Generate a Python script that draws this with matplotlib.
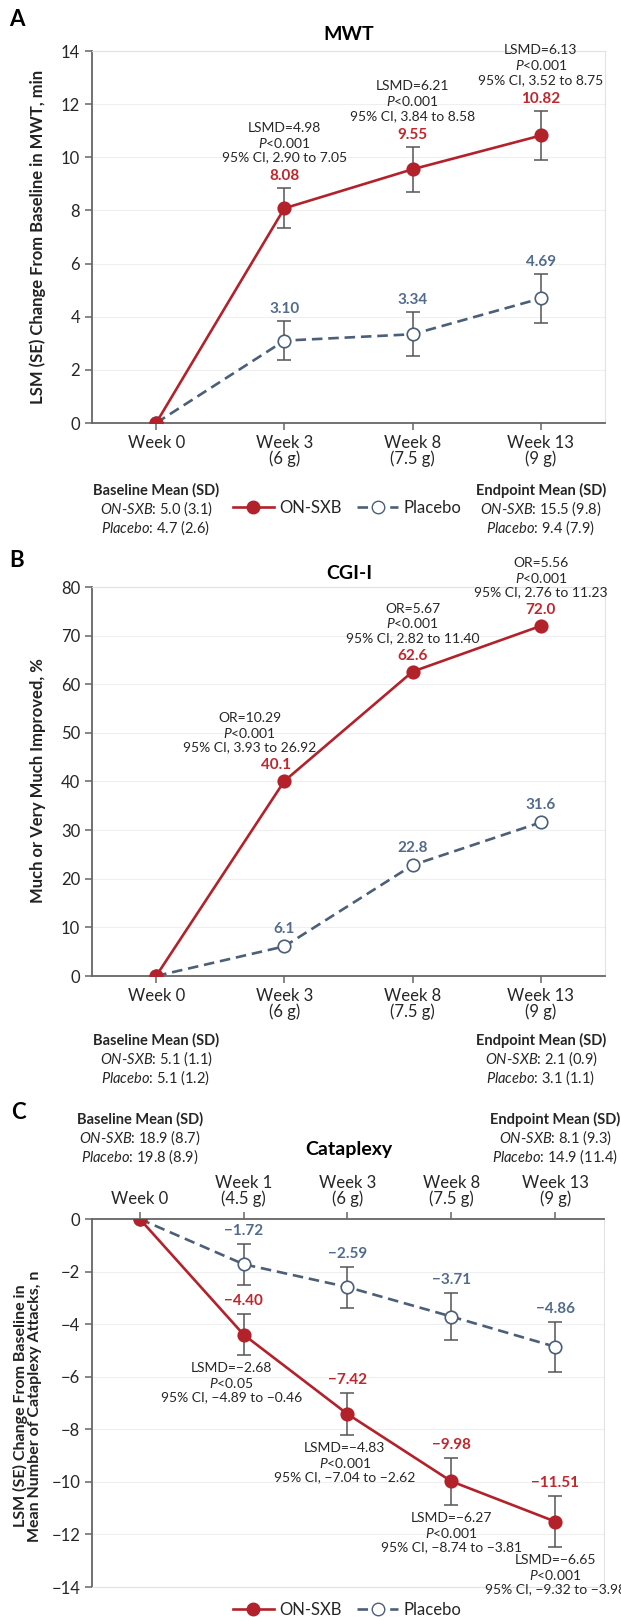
import numpy as np
import matplotlib.pyplot as plt
from matplotlib.lines import Line2D

plt.rcParams['font.family'] = ['Lato', 'DejaVu Sans']
plt.rcParams['mathtext.fontset'] = 'custom'
plt.rcParams['mathtext.rm'] = 'Lato'
plt.rcParams['mathtext.it'] = 'Lato:italic'
plt.rcParams['mathtext.bf'] = 'Lato:bold'

W, H = 621, 1617

# ---------------- data ----------------
mwt_weeks = ['Week 0', 'Week 3\n(6 g)', 'Week 8\n(7.5 g)', 'Week 13\n(9 g)']
mwt_sxb = [0, 8.08, 9.55, 10.82]
mwt_sxb_se = [0, 0.76, 0.85, 0.93]
mwt_pbo = [0, 3.10, 3.34, 4.69]
mwt_pbo_se = [0, 0.74, 0.83, 0.92]
mwt_stat = ['LSMD=4.98', 'LSMD=6.21', 'LSMD=6.13']
mwt_p = ['<0.001', '<0.001', '<0.001']
mwt_ci = ['2.90 to 7.05', '3.84 to 8.58', '3.52 to 8.75']
mwt_base = ['5.0 (3.1)', '4.7 (2.6)']
mwt_end = ['15.5 (9.8)', '9.4 (7.9)']

cgi_weeks = mwt_weeks
cgi_sxb = [0, 40.1, 62.6, 72.0]
cgi_pbo = [0, 6.1, 22.8, 31.6]
cgi_stat = ['OR=10.29', 'OR=5.67', 'OR=5.56']
cgi_p = ['<0.001', '<0.001', '<0.001']
cgi_ci = ['3.93 to 26.92', '2.82 to 11.40', '2.76 to 11.23']
cgi_base = ['5.1 (1.1)', '5.1 (1.2)']
cgi_end = ['2.1 (0.9)', '3.1 (1.1)']

cat_weeks = ['Week 0', 'Week 1\n(4.5 g)', 'Week 3\n(6 g)', 'Week 8\n(7.5 g)', 'Week 13\n(9 g)']
cat_sxb = [0, -4.40, -7.42, -9.98, -11.51]
cat_sxb_se = [0, 0.78, 0.80, 0.90, 0.97]
cat_pbo = [0, -1.72, -2.59, -3.71, -4.86]
cat_pbo_se = [0, 0.78, 0.78, 0.88, 0.95]
cat_stat = ['LSMD=\u22122.68', 'LSMD=\u22124.83', 'LSMD=\u22126.27', 'LSMD=\u22126.65']
cat_p = ['<0.05', '<0.001', '<0.001', '<0.001']
cat_ci = ['\u22124.89 to \u22120.46', '\u22127.04 to \u22122.62', '\u22128.74 to \u22123.81', '\u22129.32 to \u22123.98']
cat_base = ['18.9 (8.7)', '19.8 (8.9)']
cat_end = ['8.1 (9.3)', '14.9 (11.4)']

# ---------------- style ----------------
RED = '#b3212b'
RED_TXT = '#c0272d'
BLUE = '#4b5f78'
BLUE_TXT = '#536b8b'
TXT = '#262626'
AX = '#666666'
DASH = (0, (4, 2.2))

fig = plt.figure(figsize=(W / 100, H / 100), dpi=100)


def fx(x):
    return x / W


def fy(y):
    return 1 - y / H


def make_axes(left, top, right, bottom):
    ax = fig.add_axes([fx(left), fy(bottom), (right - left) / W, (bottom - top) / H])
    for s in ['top', 'right', 'left', 'bottom']:
        ax.spines[s].set_color('#e2e2e2')
        ax.spines[s].set_linewidth(0.8)
    ax.spines['left'].set_color(AX)
    ax.spines['left'].set_linewidth(1.3)
    ax.grid(axis='y', color='#efefef', lw=0.8)
    ax.set_axisbelow(True)
    ax.tick_params(colors=AX, labelcolor=TXT, labelsize=12, length=5, width=1.1)
    return ax


def draw_series(ax, y, se, color, filled, dashed):
    x = np.arange(len(y))
    if se is not None:
        ax.errorbar(x[1:], y[1:], yerr=se[1:], fmt='none', ecolor='#555555',
                    elinewidth=1.1, capsize=4.8, capthick=1.1, zorder=2)
    ax.plot(x, y, color=color, lw=1.9, ls=DASH if dashed else '-',
            marker='o', ms=9, mfc=color if filled else 'white', mec=color,
            mew=1.2, zorder=4 if filled else 3)


def value_labels(ax, y, se, fmt, color, dy, dxs=None):
    for i in range(1, len(y)):
        top = y[i] + (se[i] if se is not None else 0)
        dx = dxs[i - 1] if dxs else 0
        ax.annotate(fmt(y[i]), xy=(i, top), xytext=(dx, dy), textcoords='offset points',
                    ha='center', va='center', fontsize=11, fontweight='bold', color=color)


def stat_blocks(ax, anchors, stats, ps, cis, dy, va, dxs=None):
    for k, (i, yv) in enumerate(anchors):
        txt = stats[k] + '\n$\\mathit{P}$' + ps[k] + '\n95% CI, ' + cis[k]
        dx = dxs[k] if dxs else 0
        ax.annotate(txt, xy=(i, yv), xytext=(dx, dy), textcoords='offset points',
                    ha='center', va=va, fontsize=10, color=TXT, linespacing=1.15,
                    annotation_clip=False)


def summary(x, y, head, vals):
    fig.text(fx(x), fy(y), head, ha='center', va='center', fontsize=10.5,
             fontweight='bold', color=TXT)
    fig.text(fx(x), fy(y + 19), '$\\mathit{ON}$-$\\mathit{SXB}$: ' + vals[0],
             ha='center', va='center', fontsize=10.5, color=TXT)
    fig.text(fx(x), fy(y + 38), '$\\mathit{Placebo}$: ' + vals[1],
             ha='center', va='center', fontsize=10.5, color=TXT)


def legend(y):
    h = [Line2D([], [], color=RED, lw=1.9, marker='o', ms=9, mfc=RED, mec=RED),
         Line2D([], [], color=BLUE, lw=1.9, ls=DASH, marker='o', ms=9,
                mfc='white', mec=BLUE)]
    fig.legend(h, ['ON-SXB', 'Placebo'], loc='center', bbox_to_anchor=(fx(347), fy(y)),
               ncol=2, frameon=False, fontsize=12, handlelength=2.5,
               handletextpad=0.3, columnspacing=0.9, labelcolor=TXT)


def pct(v):
    return f'{v:.1f}'


def two(v):
    return f'{v:.2f}'.replace('-', '\u2212')


# ---------------- panel A: MWT ----------------
axA = make_axes(92, 51, 605, 423)
axA.spines['bottom'].set_color(AX)
axA.spines['bottom'].set_linewidth(1.3)
draw_series(axA, mwt_pbo, mwt_pbo_se, BLUE, False, True)
draw_series(axA, mwt_sxb, mwt_sxb_se, RED, True, False)
axA.set_xlim(-0.5, 3.5)
axA.set_ylim(0, 14)
axA.set_yticks(np.arange(0, 15, 2))
axA.set_xticks(range(len(mwt_weeks)))
axA.set_xticklabels(mwt_weeks, linespacing=1.0)
value_labels(axA, mwt_sxb, mwt_sxb_se, two, RED_TXT, 8.6)
value_labels(axA, mwt_pbo, mwt_pbo_se, two, BLUE_TXT, 8.6)
stat_blocks(axA, [(i, mwt_sxb[i] + mwt_sxb_se[i]) for i in range(1, 4)],
            mwt_stat, mwt_p, mwt_ci, 18, 'bottom')
fig.text(fx(17), fy(19), 'A', ha='center', va='center', fontsize=16, fontweight='bold')
fig.text(fx(349), fy(34), 'MWT', ha='center', va='center', fontsize=14, fontweight='bold')
fig.text(fx(38), fy(237), 'LSM (SE) Change From Baseline in MWT, min', rotation=90,
         ha='center', va='center', fontsize=12, fontweight='bold', color='#222222')
summary(156, 490, 'Baseline Mean (SD)', mwt_base)
summary(541, 490, 'Endpoint Mean (SD)', mwt_end)
legend(508)

# ---------------- panel B: CGI-I ----------------
axB = make_axes(92, 587, 605, 976)
axB.spines['bottom'].set_color(AX)
axB.spines['bottom'].set_linewidth(1.3)
draw_series(axB, cgi_pbo, None, BLUE, False, True)
draw_series(axB, cgi_sxb, None, RED, True, False)
axB.set_xlim(-0.5, 3.5)
axB.set_ylim(0, 80)
axB.set_yticks(np.arange(0, 81, 10))
axB.set_xticks(range(len(cgi_weeks)))
axB.set_xticklabels(cgi_weeks, linespacing=1.0)
value_labels(axB, cgi_sxb, None, pct, RED_TXT, 11.5, dxs=[-6, 0, 0])
value_labels(axB, cgi_pbo, None, pct, BLUE_TXT, 12.5)
stat_blocks(axB, [(i, cgi_sxb[i]) for i in range(1, 4)],
            cgi_stat, cgi_p, cgi_ci, 20, 'bottom', dxs=[-25, 0, 0])
fig.text(fx(17), fy(560), 'B', ha='center', va='center', fontsize=16, fontweight='bold')
fig.text(fx(349), fy(573), 'CGI-I', ha='center', va='center', fontsize=14, fontweight='bold')
fig.text(fx(38), fy(781), 'Much or Very Much Improved, %', rotation=90,
         ha='center', va='center', fontsize=12, fontweight='bold', color='#222222')
summary(156, 1040, 'Baseline Mean (SD)', cgi_base)
summary(541, 1040, 'Endpoint Mean (SD)', cgi_end)

# ---------------- panel C: Cataplexy ----------------
axC = make_axes(92, 1219, 604, 1587)
axC.spines['top'].set_color(AX)
axC.spines['top'].set_linewidth(1.3)
draw_series(axC, cat_pbo, cat_pbo_se, BLUE, False, True)
draw_series(axC, cat_sxb, cat_sxb_se, RED, True, False)
axC.set_xlim(-0.46, 4.47)
axC.set_ylim(-14, 0)
axC.set_yticks(np.arange(-14, 1, 2))
axC.xaxis.tick_top()
axC.set_xticks(range(len(cat_weeks)))
axC.set_xticklabels(cat_weeks, linespacing=1.0)
value_labels(axC, cat_sxb, cat_sxb_se, two, RED_TXT, 9.4)
value_labels(axC, cat_pbo, cat_pbo_se, two, BLUE_TXT, 9.4)
stat_blocks(axC, [(i, cat_sxb[i] - cat_sxb_se[i]) for i in range(1, 5)],
            cat_stat, cat_p, cat_ci, -5, 'top', dxs=[-9, -2, 0, 0])
fig.text(fx(18), fy(1112), 'C', ha='center', va='center', fontsize=16, fontweight='bold')
fig.text(fx(349), fy(1150), 'Cataplexy', ha='center', va='center', fontsize=14, fontweight='bold')
fig.text(fx(27), fy(1406), 'LSM (SE) Change From Baseline in\nMean Number of Cataplexy Attacks, n',
         rotation=90, ha='center', va='center', fontsize=11.5, fontweight='bold',
         color='#222222', linespacing=1.0)
summary(140, 1119, 'Baseline Mean (SD)', cat_base)
summary(555, 1119, 'Endpoint Mean (SD)', cat_end)
legend(1610)

fig.savefig('out.png', dpi=100)
